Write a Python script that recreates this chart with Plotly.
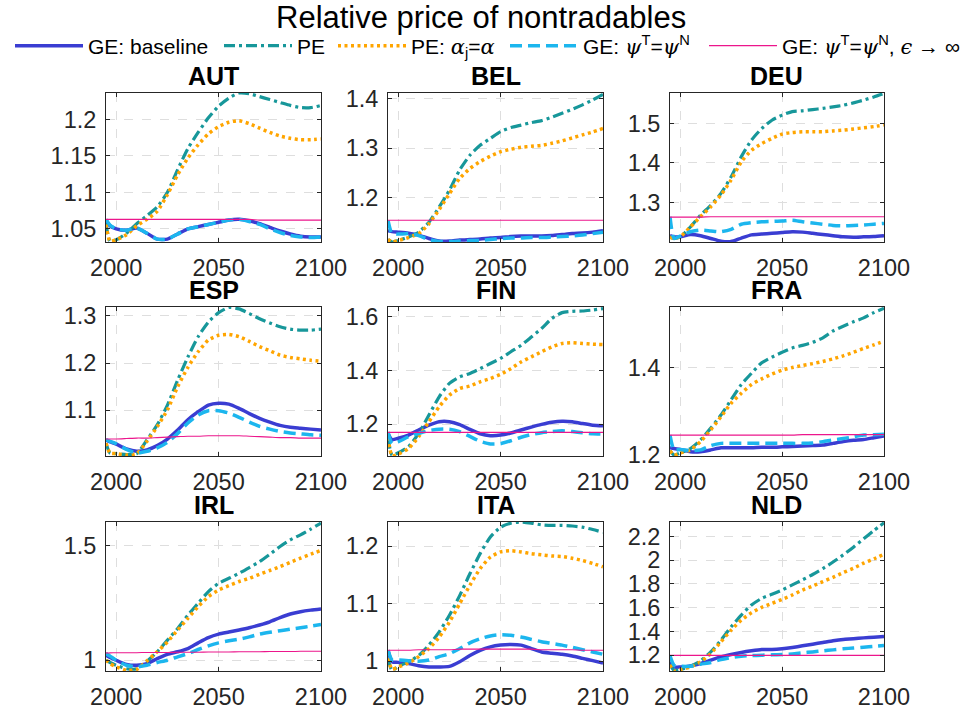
import plotly.graph_objects as go

# ---------------- data ----------------
years = [1995, 1997, 2000, 2005, 2010, 2015, 2020, 2025, 2030, 2035, 2040, 2045,
         2050, 2055, 2060, 2065, 2070, 2075, 2080, 2085, 2090, 2095, 2100]

SERIF = "font-family:'DejaVu Serif',serif"
series_names = [
    "GE: baseline",
    "PE",
    f"PE: <span style=\"{SERIF}\"><i>α</i></span><sub>j</sub>=<span style=\"{SERIF}\"><i>α</i></span>",
    f"GE: <span style=\"{SERIF}\"><i>ψ</i></span><sup>T</sup>=<span style=\"{SERIF}\"><i>ψ</i></span><sup>N</sup>",
    f"GE: <span style=\"{SERIF}\"><i>ψ</i></span><sup>T</sup>=<span style=\"{SERIF}\"><i>ψ</i></span><sup>N</sup>, <span style=\"{SERIF}\"><i>ϵ</i></span> → ∞",
]

AUT_base = [1.062, 1.054, 1.050, 1.048, 1.051, 1.044, 1.036, 1.036, 1.043, 1.050, 1.053, 1.056, 1.059, 1.062, 1.063, 1.061, 1.057, 1.052, 1.047, 1.043, 1.040, 1.039, 1.039]
AUT_pe = [1.058, 1.033, 1.035, 1.044, 1.057, 1.068, 1.080, 1.100, 1.131, 1.160, 1.182, 1.202, 1.218, 1.229, 1.236, 1.235, 1.231, 1.227, 1.223, 1.219, 1.216, 1.216, 1.219]
AUT_pea = [1.056, 1.033, 1.035, 1.042, 1.054, 1.063, 1.074, 1.097, 1.124, 1.147, 1.165, 1.180, 1.190, 1.196, 1.198, 1.194, 1.188, 1.182, 1.177, 1.174, 1.172, 1.172, 1.173]
AUT_psi = [1.063, 1.055, 1.050, 1.048, 1.051, 1.044, 1.036, 1.036, 1.043, 1.050, 1.053, 1.056, 1.059, 1.062, 1.063, 1.060, 1.056, 1.050, 1.045, 1.041, 1.039, 1.038, 1.039]
AUT_inf = [1.063, 1.063, 1.063, 1.063, 1.063, 1.063, 1.063, 1.063, 1.063, 1.063, 1.063, 1.063, 1.063, 1.063, 1.063, 1.063, 1.062, 1.062, 1.062, 1.062, 1.062, 1.062, 1.062]

BEL_base = [1.133, 1.131, 1.130, 1.128, 1.124, 1.117, 1.112, 1.112, 1.114, 1.115, 1.116, 1.118, 1.119, 1.121, 1.122, 1.122, 1.122, 1.123, 1.125, 1.127, 1.128, 1.130, 1.133]
BEL_pe = [1.115, 1.110, 1.113, 1.120, 1.130, 1.150, 1.181, 1.215, 1.256, 1.286, 1.306, 1.320, 1.334, 1.342, 1.347, 1.352, 1.356, 1.363, 1.371, 1.379, 1.388, 1.398, 1.409]
BEL_pea = [1.115, 1.110, 1.113, 1.119, 1.127, 1.147, 1.176, 1.208, 1.239, 1.259, 1.273, 1.284, 1.293, 1.298, 1.302, 1.304, 1.306, 1.310, 1.315, 1.321, 1.327, 1.333, 1.340]
BEL_psi = [1.154, 1.127, 1.126, 1.127, 1.123, 1.115, 1.111, 1.111, 1.112, 1.113, 1.113, 1.115, 1.117, 1.118, 1.118, 1.119, 1.119, 1.120, 1.121, 1.122, 1.124, 1.127, 1.130]
BEL_inf = [1.154, 1.154, 1.154, 1.154, 1.154, 1.154, 1.154, 1.154, 1.154, 1.154, 1.154, 1.154, 1.154, 1.154, 1.154, 1.154, 1.154, 1.154, 1.154, 1.154, 1.154, 1.154, 1.154]

DEU_base = [1.216, 1.213, 1.213, 1.219, 1.216, 1.209, 1.202, 1.201, 1.210, 1.218, 1.220, 1.222, 1.224, 1.226, 1.225, 1.222, 1.219, 1.216, 1.213, 1.212, 1.213, 1.214, 1.216]
DEU_pe = [1.212, 1.209, 1.213, 1.238, 1.268, 1.293, 1.323, 1.365, 1.416, 1.458, 1.487, 1.508, 1.521, 1.530, 1.532, 1.535, 1.538, 1.542, 1.546, 1.552, 1.559, 1.567, 1.576]
DEU_pea = [1.212, 1.209, 1.213, 1.238, 1.264, 1.289, 1.319, 1.357, 1.403, 1.432, 1.449, 1.462, 1.473, 1.477, 1.479, 1.479, 1.479, 1.481, 1.483, 1.486, 1.489, 1.492, 1.496]
DEU_psi = [1.264, 1.209, 1.215, 1.226, 1.230, 1.228, 1.226, 1.232, 1.245, 1.249, 1.251, 1.252, 1.253, 1.255, 1.251, 1.248, 1.245, 1.242, 1.241, 1.242, 1.243, 1.245, 1.247]
DEU_inf = [1.263, 1.263, 1.263, 1.263, 1.263, 1.264, 1.264, 1.264, 1.264, 1.264, 1.264, 1.264, 1.264, 1.264, 1.264, 1.264, 1.264, 1.264, 1.264, 1.264, 1.264, 1.264, 1.264]

ESP_base = [1.037, 1.033, 1.028, 1.018, 1.013, 1.016, 1.025, 1.039, 1.058, 1.080, 1.097, 1.111, 1.115, 1.113, 1.104, 1.093, 1.083, 1.075, 1.068, 1.064, 1.062, 1.060, 1.058]
ESP_pe = [1.030, 1.009, 1.008, 1.006, 1.008, 1.037, 1.069, 1.111, 1.164, 1.213, 1.256, 1.287, 1.307, 1.318, 1.315, 1.305, 1.294, 1.285, 1.277, 1.272, 1.270, 1.270, 1.272]
ESP_pea = [1.030, 1.009, 1.008, 1.005, 1.008, 1.034, 1.065, 1.101, 1.150, 1.191, 1.224, 1.249, 1.259, 1.261, 1.256, 1.246, 1.235, 1.226, 1.217, 1.212, 1.209, 1.206, 1.204]
ESP_psi = [1.038, 1.034, 1.029, 1.017, 1.009, 1.013, 1.020, 1.032, 1.051, 1.073, 1.090, 1.099, 1.099, 1.094, 1.085, 1.075, 1.066, 1.060, 1.055, 1.052, 1.050, 1.048, 1.047]
ESP_inf = [1.039, 1.039, 1.039, 1.040, 1.041, 1.041, 1.042, 1.043, 1.044, 1.045, 1.045, 1.046, 1.046, 1.046, 1.046, 1.045, 1.044, 1.043, 1.042, 1.042, 1.041, 1.041, 1.041]

FIN_base = [1.165, 1.142, 1.147, 1.159, 1.178, 1.196, 1.209, 1.209, 1.198, 1.180, 1.164, 1.157, 1.159, 1.167, 1.178, 1.189, 1.199, 1.207, 1.211, 1.209, 1.202, 1.196, 1.194]
FIN_pe = [1.150, 1.084, 1.093, 1.116, 1.165, 1.234, 1.302, 1.352, 1.376, 1.389, 1.407, 1.426, 1.445, 1.470, 1.494, 1.525, 1.557, 1.594, 1.616, 1.621, 1.622, 1.626, 1.631]
FIN_pea = [1.150, 1.082, 1.088, 1.109, 1.153, 1.209, 1.265, 1.308, 1.333, 1.342, 1.358, 1.370, 1.386, 1.407, 1.432, 1.451, 1.470, 1.488, 1.501, 1.504, 1.501, 1.498, 1.497]
FIN_psi = [1.171, 1.128, 1.134, 1.153, 1.165, 1.176, 1.181, 1.181, 1.172, 1.154, 1.136, 1.126, 1.127, 1.138, 1.151, 1.161, 1.168, 1.172, 1.175, 1.172, 1.168, 1.164, 1.163]
FIN_inf = [1.169, 1.169, 1.169, 1.169, 1.169, 1.169, 1.169, 1.169, 1.169, 1.169, 1.169, 1.169, 1.169, 1.169, 1.169, 1.169, 1.169, 1.169, 1.169, 1.169, 1.169, 1.169, 1.169]

FRA_base = [1.217, 1.215, 1.213, 1.208, 1.208, 1.212, 1.217, 1.217, 1.217, 1.217, 1.218, 1.218, 1.219, 1.220, 1.221, 1.222, 1.223, 1.227, 1.231, 1.234, 1.236, 1.240, 1.244]
FRA_pe = [1.210, 1.200, 1.205, 1.215, 1.235, 1.262, 1.292, 1.327, 1.362, 1.388, 1.412, 1.425, 1.436, 1.446, 1.452, 1.459, 1.469, 1.485, 1.496, 1.506, 1.515, 1.527, 1.537]
FRA_pea = [1.210, 1.200, 1.205, 1.212, 1.231, 1.258, 1.288, 1.319, 1.342, 1.362, 1.375, 1.386, 1.395, 1.401, 1.406, 1.410, 1.415, 1.421, 1.428, 1.436, 1.445, 1.453, 1.462]
FRA_psi = [1.246, 1.212, 1.213, 1.210, 1.212, 1.222, 1.227, 1.227, 1.227, 1.227, 1.227, 1.227, 1.227, 1.227, 1.227, 1.228, 1.231, 1.235, 1.238, 1.242, 1.246, 1.247, 1.248]
FRA_inf = [1.246, 1.246, 1.246, 1.246, 1.246, 1.246, 1.246, 1.246, 1.246, 1.246, 1.246, 1.246, 1.246, 1.246, 1.247, 1.247, 1.247, 1.247, 1.247, 1.247, 1.247, 1.247, 1.247]

IRL_base = [1.022, 1.012, 1.000, 0.982, 0.978, 0.985, 1.007, 1.026, 1.037, 1.051, 1.076, 1.099, 1.114, 1.123, 1.132, 1.142, 1.154, 1.168, 1.186, 1.202, 1.212, 1.219, 1.224]
IRL_pe = [1.000, 0.990, 0.978, 0.963, 0.963, 0.995, 1.037, 1.088, 1.139, 1.197, 1.249, 1.300, 1.336, 1.358, 1.380, 1.405, 1.431, 1.463, 1.497, 1.526, 1.548, 1.573, 1.599]
IRL_pea = [1.000, 0.985, 0.971, 0.956, 0.960, 0.997, 1.037, 1.080, 1.132, 1.183, 1.234, 1.278, 1.307, 1.326, 1.344, 1.358, 1.376, 1.392, 1.409, 1.428, 1.446, 1.463, 1.480]
IRL_psi = [1.029, 1.018, 1.000, 0.978, 0.971, 0.978, 0.990, 1.000, 1.015, 1.029, 1.047, 1.063, 1.076, 1.085, 1.092, 1.102, 1.114, 1.122, 1.129, 1.136, 1.142, 1.149, 1.156]
IRL_inf = [1.032, 1.032, 1.033, 1.033, 1.033, 1.034, 1.034, 1.034, 1.035, 1.035, 1.035, 1.036, 1.036, 1.036, 1.037, 1.037, 1.037, 1.038, 1.038, 1.038, 1.039, 1.039, 1.039]

ITA_base = [1.019, 0.999, 0.998, 0.996, 0.992, 0.990, 0.990, 0.991, 0.999, 1.010, 1.019, 1.025, 1.028, 1.029, 1.028, 1.022, 1.016, 1.014, 1.012, 1.009, 1.005, 1.001, 0.997]
ITA_pe = [1.005, 0.984, 0.991, 0.999, 1.010, 1.028, 1.051, 1.080, 1.114, 1.152, 1.187, 1.216, 1.233, 1.240, 1.242, 1.240, 1.237, 1.236, 1.236, 1.235, 1.233, 1.229, 1.224]
ITA_pea = [1.005, 0.986, 0.990, 0.997, 1.008, 1.022, 1.042, 1.068, 1.100, 1.132, 1.161, 1.181, 1.190, 1.192, 1.190, 1.187, 1.185, 1.183, 1.182, 1.179, 1.175, 1.170, 1.164]
ITA_psi = [1.019, 1.002, 1.002, 1.001, 1.000, 1.002, 1.008, 1.013, 1.022, 1.032, 1.039, 1.044, 1.046, 1.045, 1.042, 1.038, 1.034, 1.031, 1.028, 1.024, 1.020, 1.016, 1.012]
ITA_inf = [1.019, 1.019, 1.019, 1.019, 1.020, 1.020, 1.020, 1.020, 1.021, 1.021, 1.021, 1.021, 1.021, 1.021, 1.021, 1.021, 1.020, 1.020, 1.020, 1.020, 1.019, 1.019, 1.019]

NLD_base = [1.144, 1.101, 1.101, 1.110, 1.130, 1.158, 1.186, 1.206, 1.223, 1.237, 1.248, 1.248, 1.254, 1.265, 1.279, 1.293, 1.307, 1.321, 1.332, 1.338, 1.346, 1.352, 1.358]
NLD_pe = [1.120, 1.073, 1.079, 1.107, 1.152, 1.228, 1.327, 1.439, 1.538, 1.623, 1.679, 1.713, 1.749, 1.792, 1.835, 1.880, 1.930, 1.985, 2.045, 2.110, 2.180, 2.250, 2.315]
NLD_pea = [1.120, 1.068, 1.079, 1.101, 1.144, 1.214, 1.313, 1.411, 1.496, 1.558, 1.603, 1.637, 1.670, 1.707, 1.749, 1.783, 1.820, 1.856, 1.896, 1.932, 1.975, 2.011, 2.051]
NLD_psi = [1.194, 1.115, 1.107, 1.107, 1.124, 1.138, 1.163, 1.180, 1.192, 1.197, 1.200, 1.203, 1.206, 1.211, 1.220, 1.228, 1.237, 1.245, 1.254, 1.261, 1.268, 1.275, 1.282]
NLD_inf = [1.199, 1.199, 1.199, 1.199, 1.199, 1.199, 1.199, 1.199, 1.199, 1.199, 1.199, 1.199, 1.199, 1.199, 1.199, 1.199, 1.199, 1.199, 1.199, 1.199, 1.199, 1.199, 1.199]

x_ticks = [2000, 2050, 2100]
AUT_yticks = [1.05, 1.1, 1.15, 1.2]
BEL_yticks = [1.2, 1.3, 1.4]
DEU_yticks = [1.3, 1.4, 1.5]
ESP_yticks = [1.1, 1.2, 1.3]
FIN_yticks = [1.2, 1.4, 1.6]
FRA_yticks = [1.2, 1.4]
IRL_yticks = [1, 1.5]
ITA_yticks = [1, 1.1, 1.2]
NLD_yticks = [1.2, 1.4, 1.6, 1.8, 2, 2.2]

panels = [
    ("AUT", [AUT_base, AUT_pe, AUT_pea, AUT_psi, AUT_inf], AUT_yticks, [1.032, 1.236]),
    ("BEL", [BEL_base, BEL_pe, BEL_pea, BEL_psi, BEL_inf], BEL_yticks, [1.110, 1.412]),
    ("DEU", [DEU_base, DEU_pe, DEU_pea, DEU_psi, DEU_inf], DEU_yticks, [1.200, 1.577]),
    ("ESP", [ESP_base, ESP_pe, ESP_pea, ESP_psi, ESP_inf], ESP_yticks, [1.003, 1.319]),
    ("FIN", [FIN_base, FIN_pe, FIN_pea, FIN_psi, FIN_inf], FIN_yticks, [1.081, 1.637]),
    ("FRA", [FRA_base, FRA_pe, FRA_pea, FRA_psi, FRA_inf], FRA_yticks, [1.198, 1.540]),
    ("IRL", [IRL_base, IRL_pe, IRL_pea, IRL_psi, IRL_inf], IRL_yticks, [0.953, 1.604]),
    ("ITA", [ITA_base, ITA_pe, ITA_pea, ITA_psi, ITA_inf], ITA_yticks, [0.983, 1.242]),
    ("NLD", [NLD_base, NLD_pe, NLD_pea, NLD_psi, NLD_inf], NLD_yticks, [1.067, 2.322]),
]

# ---------------- style ----------------
W, H = 969, 713
FONT = "Liberation Sans, Arial, Helvetica, sans-serif"
styles = [
    dict(color="#3a3dd2", width=3.5, dash="solid"),
    dict(color="#17979a", width=3.2, dash="11px,4px,3px,4px"),
    dict(color="#ffa500", width=3.5, dash="3px,3.5px"),
    dict(color="#1cb6ee", width=3.5, dash="12px,6px"),
    dict(color="#ec168c", width=1.1, dash="solid"),
]
legend_text_x = [90, 299, 413, 585, 784]   # left edge of each legend label (px)
ITEMW = 68
col_px = [(106, 321), (388, 603), (670, 884)]
row_px = [(93, 242), (307, 456), (522, 671)]

fig = go.Figure()
annotations = []
for i, (name, series, yticks, yrange) in enumerate(panels):
    r, c = divmod(i, 3)
    sfx = "" if i == 0 else str(i + 1)
    for k, vals in enumerate(series):
        st = styles[k]
        fig.add_trace(go.Scatter(
            x=years, y=vals, xaxis="x" + sfx, yaxis="y" + sfx, mode="lines",
            name=series_names[k], legendgroup=str(k), showlegend=(i == 0),
            legend="legend" if k == 0 else f"legend{k + 1}",
            line=dict(color=st["color"], width=st["width"], dash=st["dash"],
                      shape="spline", smoothing=0.6),
            hoverinfo="skip"))
    xdom = [col_px[c][0] / W, col_px[c][1] / W]
    ydom = [1 - row_px[r][1] / H, 1 - row_px[r][0] / H]
    common = dict(showline=True, linecolor="#262626", linewidth=1, mirror="ticks",
                  ticks="inside", ticklen=4, tickcolor="#262626",
                  showgrid=True, gridcolor="#dedede", griddash="dash", gridwidth=1,
                  zeroline=False, automargin=False,
                  tickfont=dict(family=FONT, size=23.5, color="#262626"))
    fig.layout["xaxis" + sfx] = dict(domain=xdom, anchor="y" + sfx, range=[1995, 2100],
                                     tickvals=x_ticks, ticktext=[str(t) for t in x_ticks],
                                     ticklabelstandoff=5, **common)
    fig.layout["yaxis" + sfx] = dict(domain=ydom, anchor="x" + sfx, range=yrange,
                                     tickvals=yticks, ticktext=[f"{t:g}" for t in yticks],
                                     ticklabelstandoff=4, **common)
    annotations.append(dict(text="<b>" + name + "</b>", xref="paper", yref="paper",
                            x=(xdom[0] + xdom[1]) / 2, y=ydom[1] + 1 / H,
                            xanchor="center", yanchor="bottom", showarrow=False,
                            font=dict(family=FONT, size=25, color="black")))

annotations.append(dict(text="Relative price of nontradables", xref="paper", yref="paper",
                        x=481 / W, y=1 - 17 / H, xanchor="center", yanchor="middle",
                        showarrow=False, font=dict(family=FONT, size=31, color="black")))

layout_legends = {}
for k in range(5):
    key = "legend" if k == 0 else f"legend{k + 1}"
    layout_legends[key] = dict(
        orientation="h", x=(legend_text_x[k] - ITEMW - 12) / W, xanchor="left",
        y=1 - 46 / H, yanchor="middle", itemwidth=ITEMW,
        font=dict(family=FONT, size=21, color="black"), bgcolor="rgba(0,0,0,0)",
        borderwidth=0)

fig.update_layout(
    width=W, height=H, margin=dict(l=0, r=0, t=0, b=0, pad=0, autoexpand=False),
    paper_bgcolor="white", plot_bgcolor="white",
    annotations=annotations, **layout_legends)

fig.write_html("out.html")
